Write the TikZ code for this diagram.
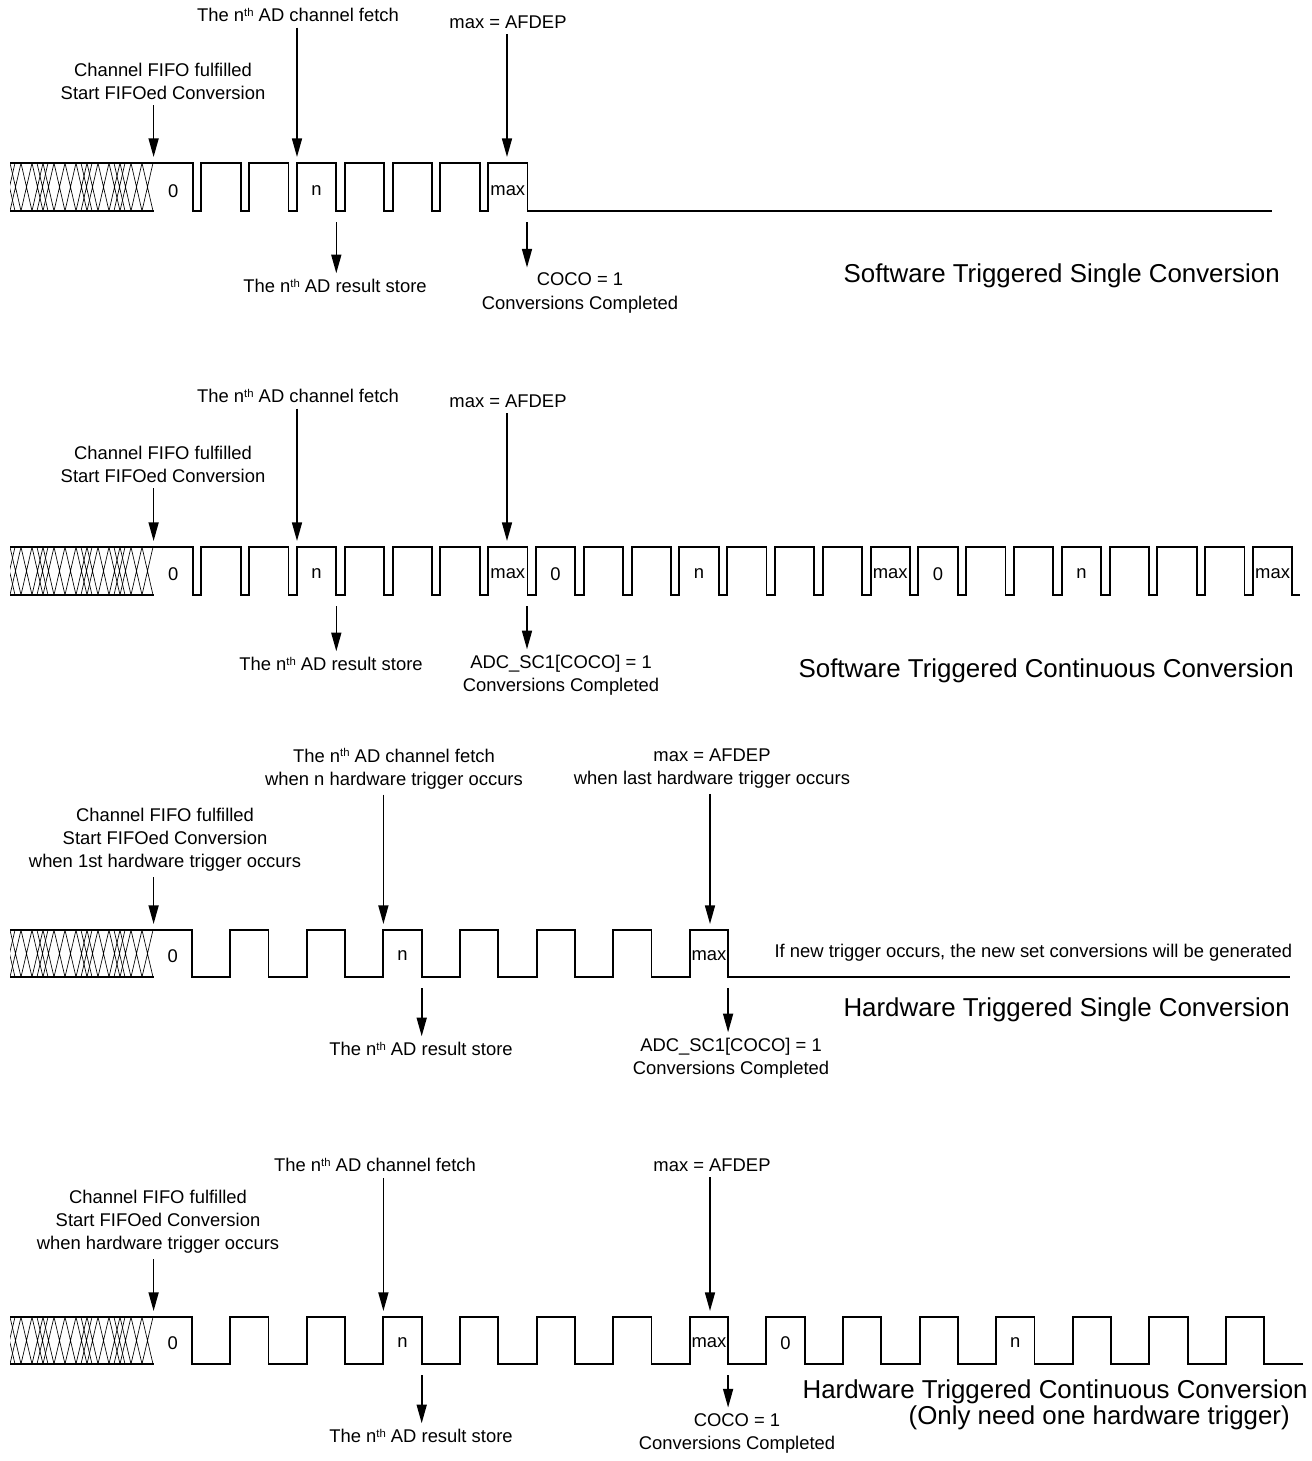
\documentclass[tikz,border=0pt]{standalone}
\usepackage{fontspec}
\setmainfont{Liberation Sans}
\usetikzlibrary{arrows.meta,positioning}
\newcommand\lblfont{\fontsize{13.8}{17.3}\selectfont}
\newcommand\ttlfont{\fontsize{19.4}{23}\selectfont}
\newcommand\nthx{n\raisebox{0.32em}{\fontsize{8.5}{9}\selectfont th}}

\begin{document}
\begin{tikzpicture}[x=0.75pt,y=-0.75pt,
  sig/.style={line width=1.4pt,line join=miter},
  hatch/.style={line width=0.5pt},
  ar/.style={line width=1.2pt,-{Triangle[length=14pt,width=7.5pt]}},
  lbl/.style={font=\lblfont,align=center,inner sep=4pt},
  pv/.style={font=\lblfont,inner sep=1pt},
  ttl/.style={font=\ttlfont,anchor=east,inner sep=0pt}]
\useasboundingbox (0,0) rectangle (1312,1461);

% hatched part before the first conversion
\foreach \t/\b in {163/211,547/595,930/977,1317/1364}{
  \draw[sig] (10,\t) -- (153.6,\t) (10,\b) -- (153.6,\b);
  \begin{scope}
    \clip (10,\t) rectangle (153.6,\b);
    \foreach \x in {10,21,...,143} \draw[hatch] (\x,\t) -- (\x+11,\b) (\x+11,\t) -- (\x,\b);
    \foreach \x in {4,37,81,114} \draw[hatch] (\x,\t) -- (\x+11,\b) (\x+11,\t) -- (\x,\b);
  \end{scope}
}

% ---- Software Triggered Single Conversion
\draw[sig] (153.6,163) \foreach \k in {1,...,7}{ -- ++(39.3,0) -- ++(0,48) -- ++(8.5,0) -- ++(0,-48) }
  -- ++(39.3,0) -- ++(0,48) -- (1272,211);
\foreach \k/\t in {0/0,3/n,7/max} \node[pv] (r1p\k) at (173.2+47.8*\k,191) {\t};
\coordinate (r1t0) at (153.6,157);
\coordinate (r1t3) at (297,157);
\coordinate (r1t7) at (507,157);
\coordinate (r1s3) at (336.3,222);
\coordinate (r1s7) at (527,222);
\node[lbl] (r1fifo)  at (163,81.5) {Channel FIFO fulfilled\\Start FIFOed Conversion};
\node[lbl] (r1fetch) at (298,15)   {The \nthx{} AD channel fetch};
\node[lbl] (r1max)   at (508,22)   {max = AFDEP};
\node[lbl] (r1store) at (335,286)  {The \nthx{} AD result store};
\node[lbl] (r1coco)  at (580,293)  {COCO = 1\\Conversions Completed};
\node[ttl] (r1ttl)   at (1280,276) {Software Triggered Single Conversion};
\foreach \l/\c in {r1fifo/r1t0,r1fetch/r1t3,r1max/r1t7} \draw[ar] (\l.south -| \c) -- (\c);
\foreach \c/\l in {r1s3/r1store,r1s7/r1coco} \draw[ar] (\c) -- (\l.north -| \c);

% ---- Software Triggered Continuous Conversion
\draw[sig] (153.6,547) \foreach \k in {1,...,23}{ -- ++(39.3,0) -- ++(0,48) -- ++(8.5,0) -- ++(0,-48) }
  -- ++(39.3,0) -- ++(0,48) -- (1300,595);
\foreach \k/\t in {0/0,3/n,7/max,8/0,11/n,15/max,16/0,19/n,23/max}
  \node[pv] (r2p\k) at (173.2+47.8*\k,574) {\t};
\coordinate (r2t0) at (153.6,541);
\coordinate (r2t3) at (297,541);
\coordinate (r2t7) at (507,541);
\coordinate (r2s3) at (336.3,606);
\coordinate (r2s7) at (527,606);
\node[lbl] (r2fifo)  at (163,464.5) {Channel FIFO fulfilled\\Start FIFOed Conversion};
\node[lbl] (r2fetch) at (298,396)   {The \nthx{} AD channel fetch};
\node[lbl] (r2max)   at (508,401)   {max = AFDEP};
\node[lbl] (r2store) at (331,664)   {The \nthx{} AD result store};
\node[lbl] (r2coco)  at (561,675)   {ADC\_SC1[COCO] = 1\\Conversions Completed};
\node[ttl] (r2ttl)   at (1294,671)  {Software Triggered Continuous Conversion};
\foreach \l/\c in {r2fifo/r2t0,r2fetch/r2t3,r2max/r2t7} \draw[ar] (\l.south -| \c) -- (\c);
\foreach \c/\l in {r2s3/r2store,r2s7/r2coco} \draw[ar] (\c) -- (\l.north -| \c);

% ---- Hardware Triggered Single Conversion
\draw[sig] (153.6,930) \foreach \k in {1,...,7}{ -- ++(38.3,0) -- ++(0,47) -- ++(38.3,0) -- ++(0,-47) }
  -- ++(38.3,0) -- ++(0,47) -- (1290,977);
\foreach \k/\t in {0/0,3/n,7/max} \node[pv] (r3p\k) at (172.7+76.6*\k,956) {\t};
\coordinate (r3t0) at (153.6,924);
\coordinate (r3t3) at (383.4,924);
\coordinate (r3t7) at (710,924);
\coordinate (r3s3) at (421.7,988);
\coordinate (r3s7) at (728.1,988);
\node[lbl] (r3fifo)  at (165,840)    {Channel FIFO fulfilled\\Start FIFOed Conversion\\when 1st hardware trigger occurs};
\node[lbl] (r3fetch) at (394,768.5)  {The \nthx{} AD channel fetch\\when n hardware trigger occurs};
\node[lbl] (r3max)   at (712,768.5)  {max = AFDEP\\when last hardware trigger occurs};
\node[lbl] (r3store) at (421,1049)   {The \nthx{} AD result store};
\node[lbl] (r3coco)  at (731,1058)   {ADC\_SC1[COCO] = 1\\Conversions Completed};
\node[lbl,anchor=west] (r3note) at (769,953) {If new trigger occurs, the new set conversions will be generated};
\node[ttl] (r3ttl)   at (1290,1010)  {Hardware Triggered Single Conversion};
\foreach \l/\c in {r3fifo/r3t0,r3fetch/r3t3,r3max/r3t7} \draw[ar] (\l.south -| \c) -- (\c);
\foreach \c/\l in {r3s3/r3store,r3s7/r3coco} \draw[ar] (\c) -- (\l.north -| \c);

% ---- Hardware Triggered Continuous Conversion
\draw[sig] (153.6,1317) \foreach \k in {1,...,14}{ -- ++(38.3,0) -- ++(0,47) -- ++(38.3,0) -- ++(0,-47) }
  -- ++(38.3,0) -- ++(0,47) -- (1302.6,1364);
\foreach \k/\t in {0/0,3/n,7/max,8/0,11/n} \node[pv] (r4p\k) at (172.7+76.6*\k,1343) {\t};
\coordinate (r4t0) at (153.6,1311);
\coordinate (r4t3) at (383.4,1311);
\coordinate (r4t7) at (710,1311);
\coordinate (r4s3) at (421.7,1375);
\coordinate (r4s7) at (728.1,1375);
\node[lbl] (r4fifo)  at (158,1222)    {Channel FIFO fulfilled\\Start FIFOed Conversion\\when hardware trigger occurs};
\node[lbl] (r4fetch) at (375,1165)    {The \nthx{} AD channel fetch};
\node[lbl] (r4max)   at (712,1165)    {max = AFDEP};
\node[lbl] (r4store) at (421,1436)    {The \nthx{} AD result store};
\node[lbl] (r4coco)  at (737,1433)    {COCO = 1\\Conversions Completed};
\node[ttl] (r4ttl)   at (1308,1392)   {Hardware Triggered Continuous Conversion};
\node[ttl] (r4ttlb)  at (1290,1418)   {(Only need one hardware trigger)};
\foreach \l/\c in {r4fifo/r4t0,r4fetch/r4t3,r4max/r4t7} \draw[ar] (\l.south -| \c) -- (\c);
\foreach \c/\l in {r4s3/r4store,r4s7/r4coco} \draw[ar] (\c) -- (\l.north -| \c);
\end{tikzpicture}
\end{document}
